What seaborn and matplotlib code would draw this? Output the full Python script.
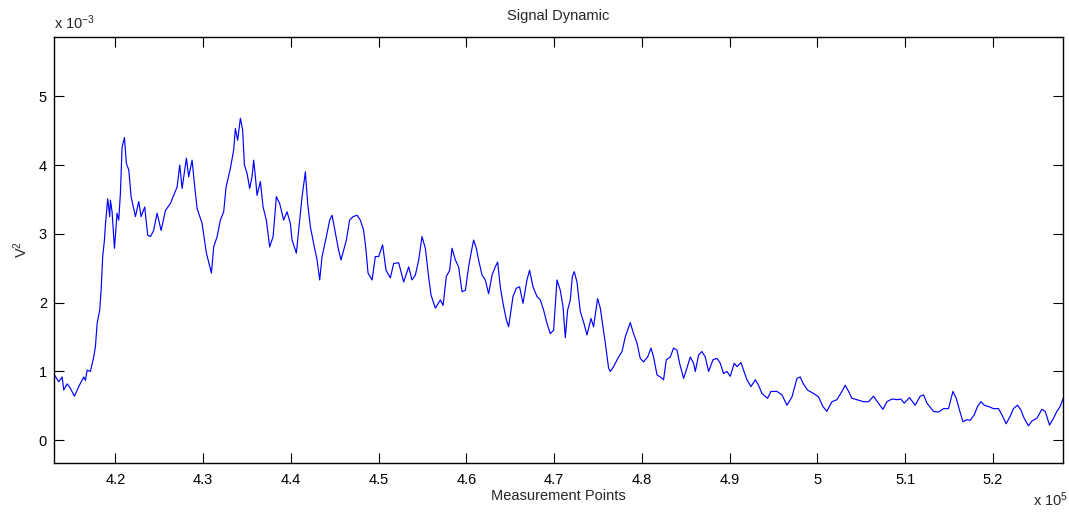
import matplotlib
matplotlib.use("Agg")
import matplotlib.pyplot as plt
import numpy as np
import pandas as pd
import seaborn as sns

# Measurement point index and signal power (V^2, units of 1e-3)
points = [
    413050, 413540, 413930, 414110, 414500, 414870, 415330, 415820, 416390, 416580,
    416780, 417150, 417530, 417720, 417920, 418210, 418370, 418550, 418750, 418860,
    419120, 419350, 419430, 419620, 419890, 420190, 420380, 420570, 420760, 421030,
    421250, 421520, 421790, 422280, 422660, 422930, 423340, 423680, 423990, 424360,
    424750, 425210, 425700, 426270, 426640, 427030, 427330, 427600, 428090, 428350,
    428740, 429000, 429310, 429880, 430370, 430940, 431200, 431590, 431960, 432340,
    432610, 433100, 433480, 433670, 433930, 434240, 434500, 434700, 435000, 435300,
    435570, 435760, 435950, 436140, 436520, 436830, 437200, 437580, 437970, 438340,
    438720, 439170, 439560, 439940, 440130, 440620, 440880, 441270, 441650, 441910,
    442220, 442590, 442980, 443280, 443550, 444040, 444420, 444690, 445070, 445440,
    445710, 446320, 446690, 447080, 447540, 447910, 448290, 448560, 448790, 449250,
    449620, 450000, 450450, 450840, 451330, 451710, 452280, 452850, 453420, 453800,
    454180, 454560, 454940, 455320, 455690, 455970, 456460, 457030, 457340, 457710,
    458090, 458360, 458740, 459110, 459500, 459880, 460250, 460530, 460820, 461130,
    461390, 461780, 462150, 462530, 462920, 463290, 463560, 463860, 464170, 464550,
    464810, 465310, 465690, 466060, 466450, 466900, 467200, 467590, 468040, 468420,
    468800, 469180, 469560, 469940, 470320, 470700, 471010, 471270, 471530, 471840,
    472070, 472290, 472600, 472980, 473350, 473740, 474200, 474490, 474950, 475260,
    475560, 475830, 476200, 476400, 476770, 477340, 477730, 478100, 478670, 479050,
    479440, 479810, 480190, 480650, 481030, 481330, 481720, 482090, 482470, 482780,
    483230, 483610, 484000, 484290, 484750, 485130, 485510, 485890, 486080, 486460,
    486840, 487220, 487600, 488100, 488550, 488930, 489300, 489690, 490070, 490520,
    490830, 491290, 491580, 491970, 492430, 492920, 493290, 493680, 494320, 494700,
    495390, 495960, 496530, 497100, 497670, 498040, 498350, 498870, 499560, 500130,
    500630, 501080, 501650, 502220, 502790, 503170, 503550, 503930, 504500, 505250,
    505820, 506390, 506960, 507460, 507920, 508490, 509060, 509510, 509890, 510490,
    511140, 511710, 512090, 512480, 513230, 513800, 514370, 514940, 515440, 515820,
    516190, 516580, 517030, 517410, 517870, 518240, 518630, 519010, 519500, 520070,
    520640, 521020, 521510, 521970, 522340, 522800, 523190, 523560, 524050, 524440,
    525010, 525580, 525960, 526450, 526900, 527290, 527660, 528010,
]
power_milli = [
    0.95, 0.85, 0.92, 0.73, 0.82, 0.755, 0.64, 0.78, 0.92, 0.87,
    1.02, 1.00, 1.21, 1.36, 1.70, 1.89, 2.18, 2.67, 2.91, 3.13,
    3.51, 3.25, 3.49, 3.32, 2.79, 3.30, 3.20, 3.59, 4.26, 4.40,
    4.02, 3.93, 3.54, 3.25, 3.47, 3.25, 3.39, 2.98, 2.96, 3.05,
    3.30, 3.05, 3.34, 3.44, 3.56, 3.68, 4.00, 3.66, 4.10, 3.83,
    4.07, 3.73, 3.37, 3.15, 2.72, 2.43, 2.81, 2.96, 3.20, 3.32,
    3.68, 3.95, 4.22, 4.53, 4.36, 4.68, 4.51, 4.00, 3.88, 3.66,
    3.83, 4.07, 3.83, 3.56, 3.76, 3.39, 3.20, 2.81, 2.96, 3.54,
    3.44, 3.20, 3.32, 3.15, 2.91, 2.72, 3.05, 3.54, 3.90, 3.44,
    3.10, 2.86, 2.62, 2.33, 2.67, 2.96, 3.20, 3.27, 3.01, 2.76,
    2.62, 2.91, 3.20, 3.25, 3.27, 3.20, 3.05, 2.76, 2.43, 2.33,
    2.67, 2.67, 2.84, 2.47, 2.36, 2.57, 2.58, 2.30, 2.52, 2.33,
    2.40, 2.62, 2.96, 2.79, 2.38, 2.11, 1.92, 2.04, 1.96, 2.38,
    2.47, 2.79, 2.62, 2.52, 2.16, 2.18, 2.52, 2.72, 2.91, 2.79,
    2.62, 2.40, 2.33, 2.13, 2.40, 2.52, 2.59, 2.23, 1.99, 1.75,
    1.65, 2.09, 2.21, 2.23, 1.99, 2.33, 2.47, 2.23, 2.09, 2.04,
    1.89, 1.70, 1.55, 1.60, 2.33, 2.18, 1.94, 1.49, 1.89, 2.04,
    2.38, 2.45, 2.30, 1.87, 1.72, 1.53, 1.77, 1.65, 2.06, 1.92,
    1.65, 1.41, 1.05, 1.00, 1.07, 1.21, 1.29, 1.50, 1.71, 1.55,
    1.41, 1.19, 1.14, 1.21, 1.34, 1.21, 0.95, 0.92, 0.88, 1.17,
    1.21, 1.34, 1.31, 1.12, 0.90, 1.05, 1.21, 1.12, 1.00, 1.24,
    1.29, 1.21, 1.00, 1.17, 1.19, 1.12, 0.97, 1.00, 0.93, 1.12,
    1.07, 1.13, 1.02, 0.88, 0.78, 0.88, 0.80, 0.68, 0.61, 0.71,
    0.71, 0.66, 0.51, 0.63, 0.90, 0.92, 0.83, 0.73, 0.68, 0.63,
    0.49, 0.42, 0.56, 0.59, 0.71, 0.80, 0.71, 0.61, 0.59, 0.56,
    0.56, 0.64, 0.54, 0.45, 0.56, 0.60, 0.59, 0.60, 0.54, 0.62,
    0.51, 0.64, 0.66, 0.54, 0.42, 0.41, 0.46, 0.46, 0.71, 0.61,
    0.44, 0.27, 0.30, 0.29, 0.37, 0.49, 0.56, 0.51, 0.49, 0.46,
    0.46, 0.37, 0.24, 0.35, 0.46, 0.51, 0.44, 0.32, 0.21, 0.28,
    0.32, 0.45, 0.42, 0.22, 0.32, 0.42, 0.49, 0.61,
]

x_ticks = [420000, 430000, 440000, 450000, 460000, 470000, 480000, 490000, 500000, 510000, 520000]
x_tick_labels = ["4.2", "4.3", "4.4", "4.5", "4.6", "4.7", "4.8", "4.9", "5", "5.1", "5.2"]
y_ticks = [0.0, 0.001, 0.002, 0.003, 0.004, 0.005]
y_tick_labels = ["0", "1", "2", "3", "4", "5"]

df = pd.DataFrame({
    "point": points,
    "power": [v * 1e-3 for v in power_milli],
})

sns.set_style("ticks")
plt.rcParams["font.family"] = ["Liberation Sans", "DejaVu Sans"]
plt.rcParams["mathtext.fontset"] = "custom"
plt.rcParams["mathtext.rm"] = "Liberation Sans"
plt.rcParams["mathtext.it"] = "Liberation Sans"

fig = plt.figure(figsize=(10.69, 5.12), dpi=100)
ax = fig.add_axes([0.0505, 0.0957, 0.944, 0.832])

sns.lineplot(data=df, x="point", y="power", ax=ax, color="#0000ff",
             linewidth=0.85, estimator=None, sort=False)

ax.set_xlim(413000, 528000)
ax.set_ylim(-0.00033, 0.00586)
ax.set_xticks(x_ticks)
ax.set_xticklabels(x_tick_labels)
ax.set_yticks(y_ticks)
ax.set_yticklabels(y_tick_labels)
ax.tick_params(direction="in", length=7, width=0.8, top=True, right=True,
               labelsize=10.5, colors="black")
ax.tick_params(axis="x", pad=7)
ax.tick_params(axis="y", pad=5)

for side in ["left", "right", "top", "bottom"]:
    ax.spines[side].set_visible(True)
    ax.spines[side].set_color("black")
    ax.spines[side].set_linewidth(1.0)

ax.set_xlabel("")
ax.set_ylabel("")
fig.text(0.522, 0.969, "Signal Dynamic", ha="center", va="center", fontsize=10.5)
fig.text(0.522, 0.031, "Measurement Points", ha="center", va="center", fontsize=10.5)
fig.text(0.019, 0.512, "V$^2$", ha="center", va="center", rotation=90, fontsize=10.5)
fig.text(0.0505, 0.937, "x 10$^{-3}$", ha="left", va="bottom", fontsize=10.5)
fig.text(0.9995, 0.005, "x 10$^{5}$", ha="right", va="bottom", fontsize=10.5)

fig.savefig("out.png", dpi=100, facecolor="white")
